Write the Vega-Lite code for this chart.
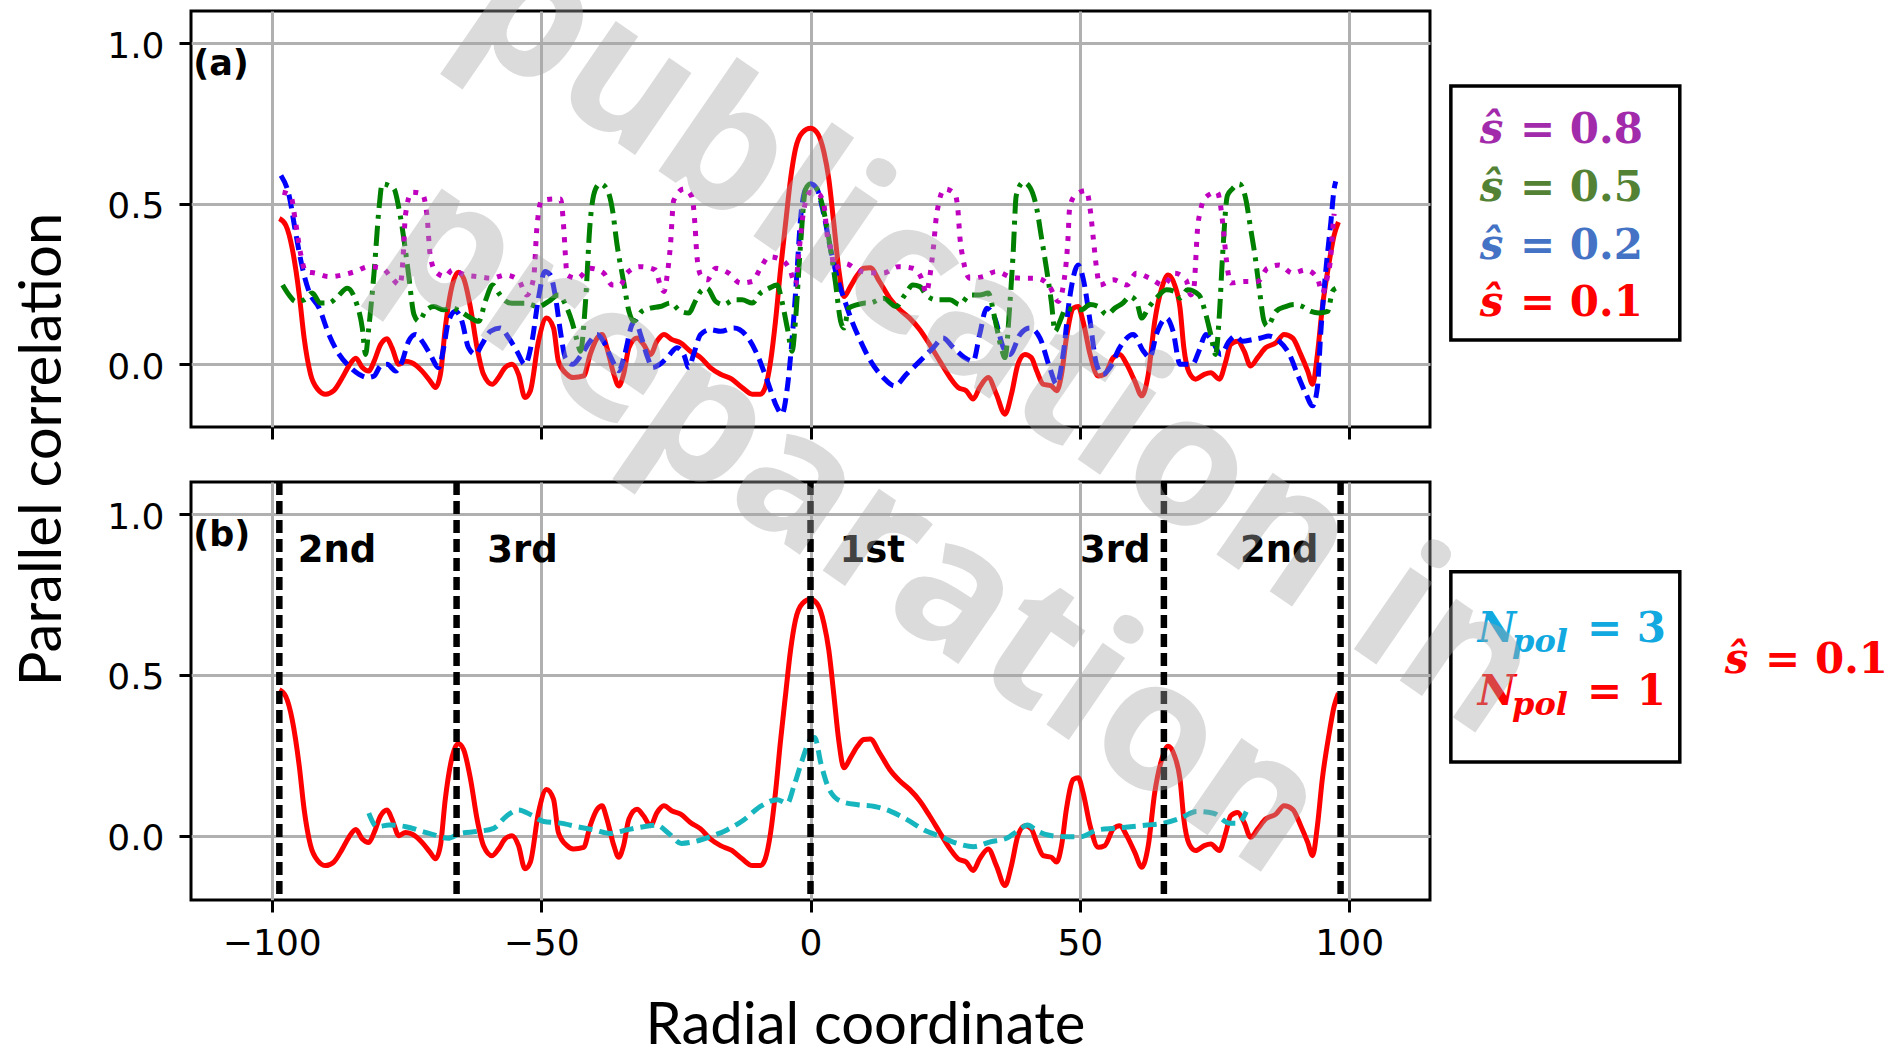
{
  "$schema": "https://vega.github.io/schema/vega-lite/v6.json",
  "autosize": {"type": "none"},
  "padding": {"left": 191, "top": 11, "right": 1713, "bottom": 1036},
  "background": "white",
  "columns": 2,
  "spacing": {"row": 55, "column": 0},
  "bounds": "flush",
  "resolve": {"scale": {"color": "independent"}},
  "datasets": {
    "s01": [
      {"x": -98.6, "y": 0.454}, {"x": -97.4, "y": 0.433}, {"x": -96.2, "y": 0.36}, {"x": -94.9, "y": 0.216}, {"x": -94.0, "y": 0.082}, {"x": -92.8, "y": -0.031}, {"x": -91.5, "y": -0.077}, {"x": -90.0, "y": -0.093}, {"x": -88.5, "y": -0.082}, {"x": -86.9, "y": -0.041}, {"x": -85.7, "y": -0.005}, {"x": -84.4, "y": 0.019}, {"x": -83.2, "y": -0.01}, {"x": -82.0, "y": -0.021}, {"x": -81.0, "y": 0.01}, {"x": -79.8, "y": 0.062}, {"x": -78.6, "y": 0.08}, {"x": -77.7, "y": 0.052}, {"x": -76.4, "y": 0.0}, {"x": -75.2, "y": 0.01}, {"x": -74.0, "y": 0.005}, {"x": -72.1, "y": -0.021}, {"x": -70.6, "y": -0.052}, {"x": -69.6, "y": -0.072}, {"x": -68.7, "y": -0.031}, {"x": -67.8, "y": 0.113}, {"x": -66.5, "y": 0.247}, {"x": -65.4, "y": 0.287}, {"x": -64.4, "y": 0.268}, {"x": -63.1, "y": 0.175}, {"x": -61.9, "y": 0.052}, {"x": -60.7, "y": -0.031}, {"x": -59.1, "y": -0.062}, {"x": -57.9, "y": -0.041}, {"x": -56.7, "y": -0.01}, {"x": -55.4, "y": 0.0}, {"x": -54.2, "y": -0.031}, {"x": -53.0, "y": -0.103}, {"x": -52.0, "y": -0.082}, {"x": -50.5, "y": 0.072}, {"x": -49.0, "y": 0.144}, {"x": -47.7, "y": 0.113}, {"x": -46.8, "y": 0.01}, {"x": -45.2, "y": -0.031}, {"x": -44.0, "y": -0.041}, {"x": -42.1, "y": -0.036}, {"x": -40.9, "y": 0.031}, {"x": -39.6, "y": 0.082}, {"x": -38.7, "y": 0.093}, {"x": -37.8, "y": 0.052}, {"x": -36.5, "y": -0.031}, {"x": -35.6, "y": -0.067}, {"x": -34.7, "y": -0.031}, {"x": -33.7, "y": 0.052}, {"x": -32.2, "y": 0.082}, {"x": -31.0, "y": 0.062}, {"x": -29.7, "y": 0.031}, {"x": -28.5, "y": 0.072}, {"x": -27.2, "y": 0.093}, {"x": -25.7, "y": 0.077}, {"x": -24.1, "y": 0.067}, {"x": -22.3, "y": 0.041}, {"x": -20.4, "y": 0.021}, {"x": -18.6, "y": -0.01}, {"x": -16.7, "y": -0.031}, {"x": -14.6, "y": -0.046}, {"x": -12.7, "y": -0.072}, {"x": -10.8, "y": -0.093}, {"x": -9.3, "y": -0.093}, {"x": -8.4, "y": -0.072}, {"x": -7.4, "y": 0.01}, {"x": -6.5, "y": 0.134}, {"x": -5.6, "y": 0.289}, {"x": -4.6, "y": 0.443}, {"x": -3.7, "y": 0.577}, {"x": -2.8, "y": 0.67}, {"x": -1.5, "y": 0.722}, {"x": 0.0, "y": 0.735}, {"x": 1.2, "y": 0.722}, {"x": 2.5, "y": 0.66}, {"x": 3.4, "y": 0.577}, {"x": 4.3, "y": 0.443}, {"x": 5.3, "y": 0.289}, {"x": 6.2, "y": 0.211}, {"x": 7.4, "y": 0.242}, {"x": 8.7, "y": 0.278}, {"x": 9.9, "y": 0.299}, {"x": 11.1, "y": 0.301}, {"x": 12.8, "y": 0.258}, {"x": 14.7, "y": 0.206}, {"x": 16.6, "y": 0.17}, {"x": 18.4, "y": 0.144}, {"x": 20.3, "y": 0.108}, {"x": 22.1, "y": 0.062}, {"x": 24.0, "y": 0.01}, {"x": 25.9, "y": -0.041}, {"x": 27.4, "y": -0.072}, {"x": 28.9, "y": -0.082}, {"x": 30.2, "y": -0.108}, {"x": 31.4, "y": -0.072}, {"x": 33.0, "y": -0.041}, {"x": 34.5, "y": -0.093}, {"x": 36.1, "y": -0.155}, {"x": 37.3, "y": -0.093}, {"x": 38.5, "y": 0.0}, {"x": 39.8, "y": 0.031}, {"x": 41.0, "y": 0.021}, {"x": 42.0, "y": -0.021}, {"x": 43.2, "y": -0.062}, {"x": 44.7, "y": -0.067}, {"x": 45.7, "y": -0.082}, {"x": 46.6, "y": -0.031}, {"x": 47.5, "y": 0.082}, {"x": 48.8, "y": 0.175}, {"x": 49.7, "y": 0.18}, {"x": 50.6, "y": 0.134}, {"x": 51.9, "y": 0.031}, {"x": 53.4, "y": -0.036}, {"x": 54.6, "y": -0.031}, {"x": 56.2, "y": 0.021}, {"x": 57.4, "y": 0.031}, {"x": 58.7, "y": 0.0}, {"x": 60.2, "y": -0.052}, {"x": 61.5, "y": -0.098}, {"x": 62.7, "y": -0.031}, {"x": 63.9, "y": 0.134}, {"x": 65.2, "y": 0.237}, {"x": 66.4, "y": 0.278}, {"x": 67.6, "y": 0.247}, {"x": 68.6, "y": 0.175}, {"x": 69.3, "y": 0.052}, {"x": 70.3, "y": -0.026}, {"x": 71.5, "y": -0.046}, {"x": 73.1, "y": -0.031}, {"x": 74.3, "y": -0.026}, {"x": 75.9, "y": -0.046}, {"x": 77.1, "y": 0.01}, {"x": 78.0, "y": 0.062}, {"x": 79.3, "y": 0.072}, {"x": 80.5, "y": 0.041}, {"x": 81.7, "y": -0.005}, {"x": 83.0, "y": 0.021}, {"x": 84.5, "y": 0.052}, {"x": 86.4, "y": 0.067}, {"x": 87.9, "y": 0.093}, {"x": 89.5, "y": 0.082}, {"x": 91.0, "y": 0.031}, {"x": 92.3, "y": -0.021}, {"x": 93.2, "y": -0.062}, {"x": 94.1, "y": 0.031}, {"x": 95.0, "y": 0.175}, {"x": 96.3, "y": 0.32}, {"x": 97.2, "y": 0.402}, {"x": 98.0, "y": 0.443}
    ],
    "s02": [
      {"x": -98.3, "y": 0.588}, {"x": -96.8, "y": 0.526}, {"x": -95.6, "y": 0.412}, {"x": -94.3, "y": 0.299}, {"x": -93.1, "y": 0.227}, {"x": -91.2, "y": 0.175}, {"x": -89.4, "y": 0.093}, {"x": -87.5, "y": 0.031}, {"x": -85.7, "y": -0.005}, {"x": -83.8, "y": -0.031}, {"x": -82.3, "y": -0.041}, {"x": -81.0, "y": -0.036}, {"x": -79.8, "y": -0.005}, {"x": -78.6, "y": 0.0}, {"x": -77.0, "y": -0.021}, {"x": -75.8, "y": 0.01}, {"x": -74.6, "y": 0.072}, {"x": -73.3, "y": 0.093}, {"x": -72.1, "y": 0.072}, {"x": -70.6, "y": 0.031}, {"x": -69.0, "y": -0.01}, {"x": -68.1, "y": 0.052}, {"x": -67.2, "y": 0.134}, {"x": -65.9, "y": 0.165}, {"x": -64.7, "y": 0.134}, {"x": -63.5, "y": 0.052}, {"x": -62.2, "y": 0.031}, {"x": -61.0, "y": 0.062}, {"x": -59.4, "y": 0.103}, {"x": -57.6, "y": 0.113}, {"x": -56.0, "y": 0.082}, {"x": -54.5, "y": 0.041}, {"x": -53.0, "y": 0.0}, {"x": -51.7, "y": 0.072}, {"x": -50.5, "y": 0.206}, {"x": -49.3, "y": 0.289}, {"x": -48.3, "y": 0.278}, {"x": -47.4, "y": 0.216}, {"x": -46.4, "y": 0.1}, {"x": -45.5, "y": 0.02}, {"x": -44.2, "y": 0.0}, {"x": -42.5, "y": 0.031}, {"x": -41.0, "y": 0.07}, {"x": -39.6, "y": 0.093}, {"x": -38.4, "y": 0.07}, {"x": -37.0, "y": 0.02}, {"x": -35.6, "y": -0.02}, {"x": -34.5, "y": 0.03}, {"x": -33.1, "y": 0.125}, {"x": -32.5, "y": 0.134}, {"x": -31.5, "y": 0.09}, {"x": -30.2, "y": 0.02}, {"x": -29.4, "y": -0.01}, {"x": -28.0, "y": 0.0}, {"x": -26.6, "y": 0.021}, {"x": -24.8, "y": 0.052}, {"x": -23.5, "y": 0.03}, {"x": -22.6, "y": -0.01}, {"x": -21.7, "y": 0.031}, {"x": -20.4, "y": 0.093}, {"x": -18.6, "y": 0.108}, {"x": -16.7, "y": 0.103}, {"x": -14.2, "y": 0.113}, {"x": -12.1, "y": 0.093}, {"x": -9.9, "y": 0.031}, {"x": -8.0, "y": -0.052}, {"x": -6.2, "y": -0.134}, {"x": -5.3, "y": -0.155}, {"x": -4.3, "y": -0.072}, {"x": -3.4, "y": 0.082}, {"x": -2.5, "y": 0.289}, {"x": -1.9, "y": 0.443}, {"x": -0.9, "y": 0.546}, {"x": 0.0, "y": 0.562}, {"x": 1.2, "y": 0.546}, {"x": 2.5, "y": 0.464}, {"x": 3.7, "y": 0.361}, {"x": 5.0, "y": 0.268}, {"x": 6.2, "y": 0.206}, {"x": 7.7, "y": 0.134}, {"x": 9.3, "y": 0.072}, {"x": 10.8, "y": 0.021}, {"x": 13.5, "y": -0.041}, {"x": 15.6, "y": -0.067}, {"x": 17.8, "y": -0.031}, {"x": 20.3, "y": 0.01}, {"x": 22.8, "y": 0.052}, {"x": 24.6, "y": 0.082}, {"x": 26.5, "y": 0.052}, {"x": 28.6, "y": 0.021}, {"x": 30.2, "y": 0.01}, {"x": 31.4, "y": 0.093}, {"x": 32.7, "y": 0.175}, {"x": 34.2, "y": 0.144}, {"x": 35.8, "y": 0.052}, {"x": 37.0, "y": 0.031}, {"x": 38.9, "y": 0.093}, {"x": 40.7, "y": 0.113}, {"x": 42.6, "y": 0.082}, {"x": 44.4, "y": -0.01}, {"x": 45.7, "y": -0.062}, {"x": 46.9, "y": 0.031}, {"x": 48.1, "y": 0.206}, {"x": 49.7, "y": 0.309}, {"x": 50.6, "y": 0.268}, {"x": 51.9, "y": 0.134}, {"x": 53.1, "y": 0.0}, {"x": 54.3, "y": -0.031}, {"x": 55.6, "y": -0.01}, {"x": 57.4, "y": 0.052}, {"x": 59.9, "y": 0.093}, {"x": 61.8, "y": 0.041}, {"x": 63.0, "y": 0.021}, {"x": 64.2, "y": 0.093}, {"x": 66.1, "y": 0.144}, {"x": 67.3, "y": 0.103}, {"x": 68.6, "y": 0.0}, {"x": 70.9, "y": 0.0}, {"x": 72.1, "y": 0.041}, {"x": 73.4, "y": 0.093}, {"x": 74.6, "y": 0.072}, {"x": 76.2, "y": 0.031}, {"x": 77.7, "y": 0.072}, {"x": 78.9, "y": 0.088}, {"x": 80.2, "y": 0.072}, {"x": 82.0, "y": 0.077}, {"x": 83.6, "y": 0.082}, {"x": 85.1, "y": 0.088}, {"x": 87.0, "y": 0.072}, {"x": 88.9, "y": 0.031}, {"x": 90.4, "y": -0.031}, {"x": 92.0, "y": -0.093}, {"x": 93.2, "y": -0.129}, {"x": 94.1, "y": -0.072}, {"x": 94.7, "y": 0.093}, {"x": 95.7, "y": 0.299}, {"x": 96.6, "y": 0.443}, {"x": 97.2, "y": 0.546}, {"x": 97.5, "y": 0.57}
    ],
    "s05": [
      {"x": -98.0, "y": 0.247}, {"x": -96.8, "y": 0.216}, {"x": -95.6, "y": 0.196}, {"x": -94.0, "y": 0.201}, {"x": -92.5, "y": 0.222}, {"x": -91.0, "y": 0.191}, {"x": -89.4, "y": 0.191}, {"x": -87.8, "y": 0.211}, {"x": -86.0, "y": 0.237}, {"x": -84.4, "y": 0.196}, {"x": -83.2, "y": 0.113}, {"x": -82.6, "y": 0.031}, {"x": -82.0, "y": 0.113}, {"x": -81.0, "y": 0.289}, {"x": -80.1, "y": 0.485}, {"x": -79.5, "y": 0.562}, {"x": -78.3, "y": 0.557}, {"x": -77.3, "y": 0.546}, {"x": -76.4, "y": 0.485}, {"x": -75.4, "y": 0.381}, {"x": -74.6, "y": 0.278}, {"x": -73.6, "y": 0.155}, {"x": -72.7, "y": 0.134}, {"x": -71.5, "y": 0.165}, {"x": -69.9, "y": 0.18}, {"x": -68.1, "y": 0.17}, {"x": -66.5, "y": 0.175}, {"x": -65.0, "y": 0.165}, {"x": -63.5, "y": 0.149}, {"x": -61.6, "y": 0.134}, {"x": -60.3, "y": 0.2}, {"x": -59.0, "y": 0.247}, {"x": -57.8, "y": 0.22}, {"x": -56.5, "y": 0.196}, {"x": -55.4, "y": 0.19}, {"x": -53.0, "y": 0.19}, {"x": -50.5, "y": 0.18}, {"x": -48.6, "y": 0.196}, {"x": -46.8, "y": 0.216}, {"x": -45.2, "y": 0.175}, {"x": -44.3, "y": 0.134}, {"x": -43.3, "y": 0.072}, {"x": -42.7, "y": 0.041}, {"x": -41.8, "y": 0.186}, {"x": -40.9, "y": 0.443}, {"x": -39.9, "y": 0.546}, {"x": -39.0, "y": 0.562}, {"x": -37.8, "y": 0.546}, {"x": -36.8, "y": 0.485}, {"x": -35.9, "y": 0.371}, {"x": -34.7, "y": 0.258}, {"x": -33.7, "y": 0.165}, {"x": -32.8, "y": 0.134}, {"x": -31.3, "y": 0.165}, {"x": -29.7, "y": 0.175}, {"x": -27.9, "y": 0.18}, {"x": -26.0, "y": 0.191}, {"x": -24.1, "y": 0.165}, {"x": -22.6, "y": 0.16}, {"x": -21.4, "y": 0.196}, {"x": -20.4, "y": 0.227}, {"x": -19.2, "y": 0.237}, {"x": -17.6, "y": 0.196}, {"x": -16.1, "y": 0.186}, {"x": -14.2, "y": 0.201}, {"x": -12.7, "y": 0.201}, {"x": -10.8, "y": 0.191}, {"x": -9.3, "y": 0.222}, {"x": -7.7, "y": 0.237}, {"x": -6.2, "y": 0.247}, {"x": -5.3, "y": 0.196}, {"x": -4.3, "y": 0.113}, {"x": -3.4, "y": 0.041}, {"x": -2.8, "y": 0.134}, {"x": -1.9, "y": 0.361}, {"x": -0.9, "y": 0.546}, {"x": 0.0, "y": 0.562}, {"x": 1.2, "y": 0.546}, {"x": 2.5, "y": 0.474}, {"x": 3.7, "y": 0.361}, {"x": 4.6, "y": 0.258}, {"x": 5.6, "y": 0.134}, {"x": 6.2, "y": 0.113}, {"x": 7.1, "y": 0.175}, {"x": 8.7, "y": 0.186}, {"x": 10.2, "y": 0.191}, {"x": 11.0, "y": 0.191}, {"x": 13.5, "y": 0.206}, {"x": 15.9, "y": 0.18}, {"x": 17.5, "y": 0.216}, {"x": 19.0, "y": 0.247}, {"x": 20.3, "y": 0.242}, {"x": 21.5, "y": 0.216}, {"x": 23.4, "y": 0.201}, {"x": 25.9, "y": 0.201}, {"x": 27.7, "y": 0.186}, {"x": 29.6, "y": 0.216}, {"x": 31.4, "y": 0.216}, {"x": 33.0, "y": 0.222}, {"x": 34.2, "y": 0.144}, {"x": 35.4, "y": 0.052}, {"x": 36.1, "y": 0.021}, {"x": 37.0, "y": 0.186}, {"x": 37.6, "y": 0.34}, {"x": 38.2, "y": 0.526}, {"x": 39.5, "y": 0.567}, {"x": 40.7, "y": 0.552}, {"x": 42.0, "y": 0.485}, {"x": 42.9, "y": 0.392}, {"x": 43.8, "y": 0.299}, {"x": 44.7, "y": 0.196}, {"x": 45.4, "y": 0.103}, {"x": 46.3, "y": 0.134}, {"x": 47.5, "y": 0.175}, {"x": 48.8, "y": 0.17}, {"x": 50.3, "y": 0.17}, {"x": 51.9, "y": 0.186}, {"x": 53.4, "y": 0.18}, {"x": 55.0, "y": 0.155}, {"x": 56.5, "y": 0.175}, {"x": 58.0, "y": 0.191}, {"x": 59.3, "y": 0.211}, {"x": 60.5, "y": 0.196}, {"x": 61.5, "y": 0.144}, {"x": 62.7, "y": 0.175}, {"x": 64.2, "y": 0.206}, {"x": 66.1, "y": 0.232}, {"x": 67.6, "y": 0.227}, {"x": 68.6, "y": 0.206}, {"x": 70.0, "y": 0.232}, {"x": 72.1, "y": 0.216}, {"x": 73.4, "y": 0.155}, {"x": 74.3, "y": 0.093}, {"x": 75.2, "y": 0.031}, {"x": 75.9, "y": 0.155}, {"x": 76.5, "y": 0.34}, {"x": 77.4, "y": 0.526}, {"x": 78.3, "y": 0.546}, {"x": 79.6, "y": 0.562}, {"x": 80.8, "y": 0.515}, {"x": 81.7, "y": 0.423}, {"x": 82.5, "y": 0.34}, {"x": 83.3, "y": 0.237}, {"x": 84.2, "y": 0.134}, {"x": 84.8, "y": 0.119}, {"x": 86.4, "y": 0.165}, {"x": 88.2, "y": 0.18}, {"x": 89.8, "y": 0.186}, {"x": 91.3, "y": 0.18}, {"x": 92.9, "y": 0.165}, {"x": 94.4, "y": 0.16}, {"x": 96.0, "y": 0.165}, {"x": 96.9, "y": 0.227}, {"x": 97.5, "y": 0.237}
    ],
    "s08": [
      {"x": -98.0, "y": 0.536}, {"x": -96.5, "y": 0.526}, {"x": -95.6, "y": 0.443}, {"x": -94.6, "y": 0.34}, {"x": -93.7, "y": 0.289}, {"x": -91.9, "y": 0.284}, {"x": -89.4, "y": 0.273}, {"x": -87.0, "y": 0.278}, {"x": -84.5, "y": 0.289}, {"x": -82.0, "y": 0.304}, {"x": -79.5, "y": 0.299}, {"x": -77.7, "y": 0.268}, {"x": -76.2, "y": 0.247}, {"x": -75.6, "y": 0.34}, {"x": -75.2, "y": 0.464}, {"x": -74.0, "y": 0.536}, {"x": -72.1, "y": 0.531}, {"x": -71.2, "y": 0.464}, {"x": -70.6, "y": 0.34}, {"x": -69.6, "y": 0.289}, {"x": -67.8, "y": 0.273}, {"x": -66.5, "y": 0.294}, {"x": -64.1, "y": 0.278}, {"x": -61.6, "y": 0.273}, {"x": -59.1, "y": 0.268}, {"x": -56.7, "y": 0.278}, {"x": -54.2, "y": 0.263}, {"x": -52.7, "y": 0.216}, {"x": -51.4, "y": 0.268}, {"x": -50.8, "y": 0.423}, {"x": -49.9, "y": 0.51}, {"x": -47.4, "y": 0.515}, {"x": -46.4, "y": 0.515}, {"x": -45.8, "y": 0.423}, {"x": -45.5, "y": 0.34}, {"x": -45.2, "y": 0.278}, {"x": -43.3, "y": 0.268}, {"x": -40.9, "y": 0.299}, {"x": -38.4, "y": 0.284}, {"x": -36.8, "y": 0.247}, {"x": -35.3, "y": 0.247}, {"x": -34.1, "y": 0.284}, {"x": -31.6, "y": 0.304}, {"x": -28.8, "y": 0.294}, {"x": -27.9, "y": 0.247}, {"x": -27.2, "y": 0.227}, {"x": -26.6, "y": 0.278}, {"x": -26.0, "y": 0.371}, {"x": -25.4, "y": 0.51}, {"x": -23.5, "y": 0.546}, {"x": -22.0, "y": 0.521}, {"x": -21.4, "y": 0.423}, {"x": -21.1, "y": 0.34}, {"x": -20.4, "y": 0.278}, {"x": -19.2, "y": 0.263}, {"x": -17.6, "y": 0.299}, {"x": -15.2, "y": 0.284}, {"x": -13.0, "y": 0.253}, {"x": -10.8, "y": 0.258}, {"x": -9.3, "y": 0.299}, {"x": -7.7, "y": 0.335}, {"x": -5.3, "y": 0.325}, {"x": -3.7, "y": 0.289}, {"x": -2.8, "y": 0.247}, {"x": -2.2, "y": 0.34}, {"x": -1.2, "y": 0.485}, {"x": 0.0, "y": 0.536}, {"x": 1.5, "y": 0.531}, {"x": 2.5, "y": 0.495}, {"x": 3.1, "y": 0.402}, {"x": 4.0, "y": 0.34}, {"x": 4.3, "y": 0.299}, {"x": 6.5, "y": 0.314}, {"x": 8.7, "y": 0.294}, {"x": 11.0, "y": 0.285}, {"x": 13.5, "y": 0.284}, {"x": 16.3, "y": 0.304}, {"x": 19.0, "y": 0.299}, {"x": 20.6, "y": 0.268}, {"x": 21.5, "y": 0.222}, {"x": 22.1, "y": 0.268}, {"x": 22.8, "y": 0.361}, {"x": 23.4, "y": 0.464}, {"x": 24.9, "y": 0.546}, {"x": 26.8, "y": 0.531}, {"x": 27.4, "y": 0.474}, {"x": 27.7, "y": 0.402}, {"x": 28.3, "y": 0.33}, {"x": 29.6, "y": 0.268}, {"x": 32.0, "y": 0.273}, {"x": 34.5, "y": 0.289}, {"x": 37.0, "y": 0.273}, {"x": 39.5, "y": 0.268}, {"x": 42.0, "y": 0.268}, {"x": 44.4, "y": 0.242}, {"x": 46.0, "y": 0.196}, {"x": 46.9, "y": 0.242}, {"x": 47.8, "y": 0.392}, {"x": 48.1, "y": 0.485}, {"x": 49.1, "y": 0.526}, {"x": 51.2, "y": 0.541}, {"x": 51.9, "y": 0.485}, {"x": 52.5, "y": 0.392}, {"x": 53.1, "y": 0.299}, {"x": 53.7, "y": 0.247}, {"x": 56.2, "y": 0.263}, {"x": 58.7, "y": 0.247}, {"x": 60.5, "y": 0.284}, {"x": 63.0, "y": 0.268}, {"x": 65.5, "y": 0.247}, {"x": 67.6, "y": 0.284}, {"x": 69.7, "y": 0.263}, {"x": 70.6, "y": 0.216}, {"x": 71.2, "y": 0.242}, {"x": 71.5, "y": 0.32}, {"x": 71.8, "y": 0.412}, {"x": 72.4, "y": 0.479}, {"x": 73.4, "y": 0.521}, {"x": 75.5, "y": 0.536}, {"x": 76.2, "y": 0.485}, {"x": 76.5, "y": 0.443}, {"x": 76.8, "y": 0.392}, {"x": 77.4, "y": 0.299}, {"x": 78.0, "y": 0.253}, {"x": 80.5, "y": 0.258}, {"x": 83.0, "y": 0.258}, {"x": 84.8, "y": 0.299}, {"x": 87.0, "y": 0.309}, {"x": 89.5, "y": 0.284}, {"x": 91.9, "y": 0.294}, {"x": 94.1, "y": 0.268}, {"x": 95.0, "y": 0.222}, {"x": 95.9, "y": 0.268}, {"x": 96.6, "y": 0.34}, {"x": 96.9, "y": 0.412}, {"x": 97.2, "y": 0.469}
    ],
    "npol3": [
      {"x": -82.0, "y": 0.07}, {"x": -80.5, "y": 0.028}, {"x": -78.2, "y": 0.033}, {"x": -75.1, "y": 0.028}, {"x": -72.0, "y": 0.013}, {"x": -69.7, "y": 0.002}, {"x": -67.3, "y": -0.008}, {"x": -65.0, "y": 0.007}, {"x": -61.9, "y": 0.013}, {"x": -58.8, "y": 0.023}, {"x": -56.5, "y": 0.06}, {"x": -54.2, "y": 0.08}, {"x": -51.9, "y": 0.065}, {"x": -49.5, "y": 0.044}, {"x": -46.4, "y": 0.039}, {"x": -43.3, "y": 0.028}, {"x": -40.2, "y": 0.018}, {"x": -37.2, "y": 0.007}, {"x": -34.1, "y": 0.018}, {"x": -31.0, "y": 0.028}, {"x": -28.6, "y": 0.033}, {"x": -26.3, "y": 0.007}, {"x": -24.0, "y": -0.024}, {"x": -21.7, "y": -0.019}, {"x": -18.6, "y": -0.003}, {"x": -15.5, "y": 0.018}, {"x": -12.4, "y": 0.049}, {"x": -9.3, "y": 0.091}, {"x": -6.2, "y": 0.112}, {"x": -4.3, "y": 0.101}, {"x": -3.1, "y": 0.153}, {"x": -1.5, "y": 0.237}, {"x": 0.0, "y": 0.3}, {"x": 0.8, "y": 0.305}, {"x": 1.9, "y": 0.227}, {"x": 3.5, "y": 0.143}, {"x": 5.8, "y": 0.106}, {"x": 8.8, "y": 0.096}, {"x": 11.9, "y": 0.091}, {"x": 15.0, "y": 0.075}, {"x": 18.0, "y": 0.049}, {"x": 21.1, "y": 0.018}, {"x": 24.2, "y": -0.003}, {"x": 27.2, "y": -0.024}, {"x": 30.3, "y": -0.034}, {"x": 33.4, "y": -0.019}, {"x": 36.4, "y": -0.008}, {"x": 38.7, "y": 0.018}, {"x": 40.3, "y": 0.033}, {"x": 41.8, "y": 0.018}, {"x": 44.1, "y": 0.002}, {"x": 47.2, "y": -0.003}, {"x": 50.2, "y": -0.003}, {"x": 53.3, "y": 0.018}, {"x": 56.4, "y": 0.023}, {"x": 59.4, "y": 0.028}, {"x": 62.5, "y": 0.033}, {"x": 65.6, "y": 0.039}, {"x": 68.6, "y": 0.054}, {"x": 71.7, "y": 0.075}, {"x": 74.8, "y": 0.07}, {"x": 77.8, "y": 0.039}, {"x": 79.4, "y": 0.039}, {"x": 80.9, "y": 0.075}
    ],
    "zones": [{"x": -98.6}, {"x": -65.7}, {"x": 0}, {"x": 65.6}, {"x": 98.4}],
    "zoneLabels": [
      {"x": -95.2, "y": 0.85, "label": "2nd", "side": "after"},
      {"x": -60.0, "y": 0.85, "label": "3rd", "side": "after"},
      {"x": 5.4, "y": 0.85, "label": "1st", "side": "after"},
      {"x": 63.1, "y": 0.85, "label": "3rd", "side": "before"},
      {"x": 94.3, "y": 0.85, "label": "2nd", "side": "before"}
    ],
    "legendA": [
      {"series": "0.8", "value": "= 0.8", "y": 68.2},
      {"series": "0.5", "value": "= 0.5", "y": 54.4},
      {"series": "0.2", "value": "= 0.2", "y": 40.3},
      {"series": "0.1", "value": "= 0.1", "y": 26.7}
    ],
    "legendB": [
      {"npol": "3", "value": "= 3", "y": 61.8},
      {"npol": "1", "value": "= 1", "y": 46.7}
    ],
    "watermark": [
      {"text": "publication in", "x": -90.5, "y": 134.0},
      {"text": "preparation", "x": -121.5, "y": 89.6}
    ]
  },
  "concat": [
    {
      "width": 1239,
      "height": 416,
      "encoding": {
        "x": {"field": "x", "type": "quantitative", "scale": {"domain": [-115, 115], "nice": false, "zero": false},
              "axis": {"values": [-100, -50, 0, 50, 100], "labels": false, "title": null}},
        "y": {"field": "y", "type": "quantitative", "scale": {"domain": [-0.195, 1.1], "nice": false, "zero": false},
              "axis": {"values": [0, 0.5, 1], "format": ".1f", "title": "Parallel correlation", "titleAngle": 270, "titleX": -131, "titleY": 438, "titleAlign": "center", "titleBaseline": "alphabetic"}}
      },
      "layer": [
        {"data": {"name": "s01"}, "mark": {"type": "line", "color": "#ff0000", "strokeWidth": 5, "interpolate": "monotone"}},
        {"data": {"name": "s02"}, "mark": {"type": "line", "color": "#0000ff", "strokeWidth": 5, "strokeDash": [14, 7], "interpolate": "monotone"}},
        {"data": {"name": "s05"}, "mark": {"type": "line", "color": "#008000", "strokeWidth": 5, "strokeDash": [20, 7, 4, 7], "interpolate": "monotone"}},
        {"data": {"name": "s08"}, "mark": {"type": "line", "color": "#bf00bf", "strokeWidth": 5, "strokeDash": [5, 8], "interpolate": "monotone"}},
        {"data": {"values": [{"x": -114.6, "y": 0.9, "label": "(a)"}]},
         "mark": {"type": "text", "font": "DejaVu Sans", "fontWeight": "bold", "fontSize": 35, "align": "left", "baseline": "alphabetic", "color": "black"},
         "encoding": {"text": {"field": "label"}}}
      ]
    },
    {
      "width": 474,
      "height": 416,
      "view": {"stroke": null},
      "encoding": {
        "y": {"field": "y", "type": "quantitative", "scale": {"domain": [0, 100]}, "axis": null}
      },
      "layer": [
        {"data": {"values": [{"x": 4.4, "x2": 52.7, "y": 20.9, "y2": 82.0}]},
         "mark": {"type": "rect", "fill": "white", "stroke": "black", "strokeWidth": 3.5},
         "encoding": {"x": {"field": "x", "type": "quantitative", "scale": {"domain": [0, 100]}, "axis": null}, "x2": {"field": "x2"}, "y2": {"field": "y2"}}},
        {"data": {"name": "legendA"},
         "mark": {"type": "text", "font": "DejaVu Serif", "fontWeight": "bold", "fontStyle": "italic", "fontSize": 42, "align": "left", "baseline": "alphabetic"},
         "encoding": {"x": {"datum": 10.5, "type": "quantitative", "scale": {"domain": [0, 100]}}, "text": {"value": "ŝ"},
                      "color": {"field": "series", "type": "nominal", "legend": null, "scale": {"domain": ["0.8", "0.5", "0.2", "0.1"], "range": ["#a22bab", "#548235", "#4472c4", "#ff0000"]}}}},
        {"data": {"name": "legendA"},
         "mark": {"type": "text", "font": "DejaVu Serif", "fontWeight": "bold", "fontSize": 42, "align": "left", "baseline": "alphabetic"},
         "encoding": {"x": {"datum": 19.0, "type": "quantitative", "scale": {"domain": [0, 100]}}, "text": {"field": "value"},
                      "color": {"field": "series", "type": "nominal", "legend": null, "scale": {"domain": ["0.8", "0.5", "0.2", "0.1"], "range": ["#a22bab", "#548235", "#4472c4", "#ff0000"]}}}}
      ]
    },
    {
      "width": 1239,
      "height": 418,
      "encoding": {
        "x": {"field": "x", "type": "quantitative", "scale": {"domain": [-115, 115], "nice": false, "zero": false},
              "axis": {"values": [-100, -50, 0, 50, 100], "title": "Radial coordinate", "titleX": 674, "titleY": 143, "titleAlign": "center", "titleBaseline": "alphabetic"}}
      },
      "layer": [
        {"data": {"name": "s01"}, "mark": {"type": "line", "color": "#ff0000", "strokeWidth": 5, "interpolate": "monotone"},
         "encoding": {"y": {"field": "y", "type": "quantitative", "scale": {"domain": [-0.2, 1.1], "nice": false, "zero": false},
                            "axis": {"values": [0, 0.5, 1], "format": ".1f", "title": null}}}},
        {"data": {"name": "npol3"}, "mark": {"type": "line", "color": "#17b5bd", "strokeWidth": 5, "strokeDash": [14, 7], "interpolate": "monotone"},
         "encoding": {"y": {"field": "y", "type": "quantitative", "scale": {"domain": [-0.2, 1.1], "nice": false, "zero": false}, "axis": {"values": [0, 0.5, 1], "format": ".1f", "title": null}}}},
        {"data": {"name": "zones"}, "mark": {"type": "rule", "color": "black", "strokeWidth": 6.5, "strokeDash": [13, 6]}},
        {"data": {"name": "zoneLabels"}, "transform": [{"filter": "datum.side == 'after'"}],
         "mark": {"type": "text", "font": "DejaVu Sans", "fontWeight": "bold", "fontSize": 37, "align": "left", "baseline": "alphabetic", "color": "black"},
         "encoding": {"y": {"field": "y", "type": "quantitative", "scale": {"domain": [-0.2, 1.1], "nice": false, "zero": false}, "axis": {"values": [0, 0.5, 1], "format": ".1f", "title": null}}, "text": {"field": "label"}}},
        {"data": {"name": "zoneLabels"}, "transform": [{"filter": "datum.side == 'before'"}],
         "mark": {"type": "text", "font": "DejaVu Sans", "fontWeight": "bold", "fontSize": 37, "align": "right", "baseline": "alphabetic", "color": "black"},
         "encoding": {"y": {"field": "y", "type": "quantitative", "scale": {"domain": [-0.2, 1.1], "nice": false, "zero": false}, "axis": {"values": [0, 0.5, 1], "format": ".1f", "title": null}}, "text": {"field": "label"}}},
        {"data": {"values": [{"x": -114.6, "y": 0.9, "label": "(b)"}]},
         "mark": {"type": "text", "font": "DejaVu Sans", "fontWeight": "bold", "fontSize": 35, "align": "left", "baseline": "alphabetic", "color": "black"},
         "encoding": {"y": {"field": "y", "type": "quantitative", "scale": {"domain": [-0.2, 1.1], "nice": false, "zero": false}, "axis": {"values": [0, 0.5, 1], "format": ".1f", "title": null}}, "text": {"field": "label"}}}
      ]
    },
    {
      "width": 474,
      "height": 418,
      "view": {"stroke": null},
      "encoding": {
        "y": {"field": "y", "type": "quantitative", "scale": {"domain": [0, 100]}, "axis": null}
      },
      "layer": [
        {"data": {"values": [{"x": 4.4, "x2": 52.7, "y": 33.0, "y2": 78.5}]},
         "mark": {"type": "rect", "fill": "white", "stroke": "black", "strokeWidth": 3.5},
         "encoding": {"x": {"field": "x", "type": "quantitative", "scale": {"domain": [0, 100]}, "axis": null}, "x2": {"field": "x2"}, "y2": {"field": "y2"}}},
        {"data": {"name": "legendB"},
         "mark": {"type": "text", "font": "DejaVu Serif", "fontWeight": "bold", "fontStyle": "italic", "fontSize": 42, "align": "left", "baseline": "alphabetic"},
         "encoding": {"x": {"datum": 10.1, "type": "quantitative", "scale": {"domain": [0, 100]}}, "text": {"value": "N"},
                      "color": {"field": "npol", "type": "nominal", "legend": null, "scale": {"domain": ["3", "1"], "range": ["#12a8e0", "#ff0000"]}}}},
        {"data": {"name": "legendB"},
         "mark": {"type": "text", "font": "DejaVu Serif", "fontWeight": "bold", "fontStyle": "italic", "fontSize": 32, "align": "left", "baseline": "alphabetic", "dy": 10},
         "encoding": {"x": {"datum": 17.3, "type": "quantitative", "scale": {"domain": [0, 100]}}, "text": {"value": "pol"},
                      "color": {"field": "npol", "type": "nominal", "legend": null, "scale": {"domain": ["3", "1"], "range": ["#12a8e0", "#ff0000"]}}}},
        {"data": {"name": "legendB"},
         "mark": {"type": "text", "font": "DejaVu Serif", "fontWeight": "bold", "fontSize": 42, "align": "left", "baseline": "alphabetic"},
         "encoding": {"x": {"datum": 33.1, "type": "quantitative", "scale": {"domain": [0, 100]}}, "text": {"field": "value"},
                      "color": {"field": "npol", "type": "nominal", "legend": null, "scale": {"domain": ["3", "1"], "range": ["#12a8e0", "#ff0000"]}}}},
        {"data": {"values": [{"y": 54.2, "value": "= 0.1"}]},
         "mark": {"type": "text", "font": "DejaVu Serif", "fontWeight": "bold", "fontStyle": "italic", "fontSize": 42, "align": "left", "baseline": "alphabetic", "color": "#ff0000"},
         "encoding": {"x": {"datum": 62.2, "type": "quantitative", "scale": {"domain": [0, 100]}}, "text": {"value": "ŝ"}}},
        {"data": {"values": [{"y": 54.2, "value": "= 0.1"}]},
         "mark": {"type": "text", "font": "DejaVu Serif", "fontWeight": "bold", "fontSize": 42, "align": "left", "baseline": "alphabetic", "color": "#ff0000"},
         "encoding": {"x": {"datum": 70.7, "type": "quantitative", "scale": {"domain": [0, 100]}}, "text": {"field": "value"}}},
        {"data": {"name": "watermark"},
         "mark": {"type": "text", "font": "Open Sans", "fontWeight": "bold", "fontSize": 182, "angle": 34.5, "align": "center", "baseline": "middle", "color": "#a6a6a6", "opacity": 0.4},
         "encoding": {"x": {"field": "x", "type": "quantitative", "scale": {"domain": [0, 100]}}, "text": {"field": "text"}}}
      ]
    }
  ],
  "config": {
    "view": {"stroke": "black", "strokeWidth": 3},
    "axis": {
      "domain": false, "grid": true, "gridColor": "#b0b0b0", "gridWidth": 3,
      "tickColor": "black", "tickWidth": 3, "tickSize": 12,
      "labelFont": "DejaVu Sans", "labelFontSize": 36, "labelColor": "black",
      "titleFont": "Lato", "titleFontSize": 58, "titleFontWeight": "normal", "titleColor": "black"
    },
    "axisX": {"labelPadding": 14},
    "axisY": {"labelPadding": 15, "labelOffset": 3}
  }
}
